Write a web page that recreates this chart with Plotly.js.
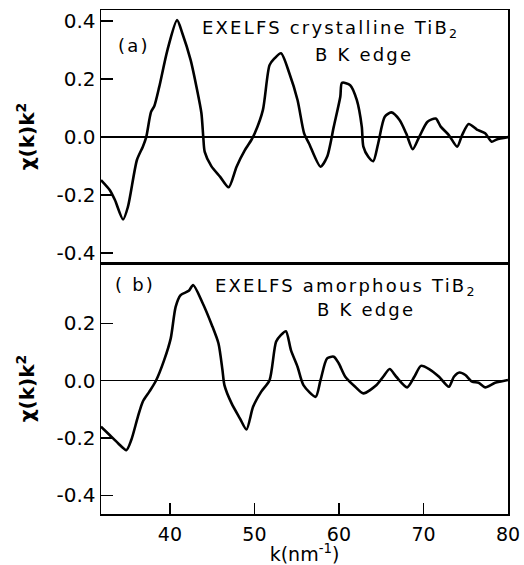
<!DOCTYPE html>
<html>
<head>
<meta charset="utf-8">
<script src="https://cdn.plot.ly/plotly-3.0.1.min.js"></script>
<style>
html,body{margin:0;padding:0;background:#fff;}
#chart{width:524px;height:565px;}
.annotation-text{letter-spacing:2.2px;}
</style>
</head>
<body>
<div id="chart"></div>
<script>
// Panel (a): crystalline TiB2
const kA = [31.85, 32.9, 33.5, 34.46, 35.04, 36.1, 36.8, 37.2, 37.77, 38.16, 38.74, 39.71, 40.85, 41.47, 42.45, 43.22, 43.73, 43.95, 44.12, 44.9, 45.95, 46.95, 47.89, 48.87, 49.64, 50.04, 51.0, 51.79, 52.37, 53.15, 54.13, 55.1, 55.88, 56.46, 57.82, 58.6, 59.39, 60.16, 60.36, 61.33, 62.11, 62.7, 62.89, 63.47, 64.06, 64.64, 65.42, 66.2, 67.17, 67.95, 68.73, 69.5, 70.48, 71.45, 72.04, 73.0, 73.99, 74.57, 75.35, 76.32, 77.3, 78.07, 78.66, 80];
const chiA = [-0.148, -0.183, -0.217, -0.284, -0.240, -0.079, -0.033, 0.0, 0.087, 0.107, 0.173, 0.30, 0.403, 0.358, 0.266, 0.162, 0.082, 0.0, -0.051, -0.100, -0.137, -0.173, -0.102, -0.045, -0.010, 0.013, 0.093, 0.248, 0.271, 0.289, 0.220, 0.128, 0.013, -0.022, -0.102, -0.068, 0.036, 0.139, 0.187, 0.179, 0.128, 0.036, -0.033, -0.068, -0.083, -0.022, 0.070, 0.085, 0.059, 0.013, -0.042, 0.001, 0.053, 0.064, 0.036, 0.007, -0.033, 0.007, 0.045, 0.026, 0.013, -0.016, -0.008, 0.0];

// Panel (b): amorphous TiB2
const kB = [31.85, 32.9, 33.87, 34.85, 35.43, 36.21, 36.79, 37.57, 38.35, 39.32, 40.1, 40.68, 41.27, 42.24, 42.75, 43.8, 44.97, 45.75, 46.22, 46.45, 47.3, 48.28, 49.06, 49.84, 50.81, 51.79, 52.56, 53.15, 53.73, 54.32, 55.1, 55.8, 57.24, 57.82, 58.6, 59.39, 59.97, 60.75, 61.92, 62.89, 64.45, 65.23, 66.0, 66.78, 68.07, 68.92, 69.7, 70.67, 71.84, 73.0, 73.6, 74.26, 74.96, 75.74, 76.52, 77.3, 78.47, 80];
const chiB = [-0.160, -0.190, -0.218, -0.242, -0.207, -0.126, -0.073, -0.038, 0.0, 0.072, 0.148, 0.258, 0.299, 0.314, 0.334, 0.276, 0.194, 0.130, 0.037, -0.015, -0.079, -0.131, -0.170, -0.091, -0.038, 0.002, 0.136, 0.160, 0.173, 0.107, 0.049, -0.015, -0.056, 0.002, 0.078, 0.084, 0.061, 0.014, -0.021, -0.044, -0.015, 0.014, 0.041, 0.014, -0.023, 0.014, 0.052, 0.041, 0.014, -0.021, 0.014, 0.029, 0.02, -0.003, -0.007, -0.023, -0.007, 0.003];

// Tick labels
const xTickVals = [40, 50, 60, 70, 80];
const xTickText = ["40", "50", "60", "70", "80"];
const yTickValsA = [-0.4, -0.2, 0, 0.2, 0.4];
const yTickTextA = ["-0.4", "-0.2", "0.0", "0.2", "0.4"];
const yTickValsB = [-0.4, -0.2, 0, 0.2];
const yTickTextB = ["-0.4", "-0.2", "0.0", "0.2"];

const FONT = "DejaVu Sans, sans-serif";
const lineStyle = {color: "#000", width: 2.6, shape: "spline", smoothing: 0.7};

const traces = [
  {x: kA, y: chiA, xaxis: "x2", yaxis: "y2", mode: "lines", line: lineStyle, hoverinfo: "skip"},
  {x: kB, y: chiB, xaxis: "x", yaxis: "y", mode: "lines", line: lineStyle, hoverinfo: "skip"}
];

const yCommon = {
  showline: true, linecolor: "#000", linewidth: 1.5, mirror: true,
  ticks: "inside", ticklen: 12, tickwidth: 1.3, tickcolor: "#000",
  showgrid: false, zeroline: true, zerolinecolor: "#000", zerolinewidth: 1.3,
  tickfont: {family: FONT, size: 20, color: "#000"},
  ticklabelstandoff: 0,
  tickmode: "array"
};
const yTitle = {text: "χ(k)k<sup>2</sup>", font: {family: FONT, size: 20, color: "#000", weight: "bold"}, standoff: 16};

const layout = {
  width: 524, height: 565,
  margin: {l: 101, r: 16, t: 10, b: 51},
  paper_bgcolor: "#fff", plot_bgcolor: "#fff",
  showlegend: false,
  xaxis: {
    domain: [0, 1], anchor: "y", range: [31.85, 80],
    showline: true, linecolor: "#000", linewidth: 1.5, mirror: true,
    ticks: "inside", ticklen: 11, tickwidth: 1.3, tickcolor: "#000",
    tickmode: "array", tickvals: xTickVals, ticktext: xTickText,
    tickfont: {family: FONT, size: 19, color: "#000"},
    ticklabelstandoff: 3,
    showgrid: false, zeroline: false,
    title: {text: "k(nm<sup>-1</sup>)", font: {family: FONT, size: 19, color: "#000"}, standoff: 8}
  },
  xaxis2: {
    domain: [0, 1], anchor: "y2", matches: "x", range: [31.85, 80],
    showline: true, linecolor: "#000", linewidth: 1.5, mirror: true,
    ticks: "", showticklabels: false, showgrid: false, zeroline: false
  },
  yaxis: Object.assign({}, yCommon, {
    domain: [0, 0.498], anchor: "x", range: [-0.465, 0.411],
    tickvals: yTickValsB, ticktext: yTickTextB, title: yTitle
  }),
  yaxis2: Object.assign({}, yCommon, {
    domain: [0.498, 1], anchor: "x2", range: [-0.434, 0.438],
    tickvals: yTickValsA, ticktext: yTickTextA, title: yTitle
  }),
  annotations: [
    {xref: "paper", yref: "paper", x: 0.081, y: 0.930, text: "(a)", showarrow: false, xanchor: "center", yanchor: "middle", font: {family: FONT, size: 18, color: "#000"}},
    {xref: "paper", yref: "paper", x: 0.243, y: 0.962, text: "EXELFS crystalline TiB<sub>2</sub>", showarrow: false, xanchor: "left", yanchor: "middle", font: {family: FONT, size: 18, color: "#000"}},
    {xref: "paper", yref: "paper", x: 0.521, y: 0.911, text: "B K edge", showarrow: false, xanchor: "left", yanchor: "middle", font: {family: FONT, size: 18, color: "#000"}},
    {xref: "paper", yref: "paper", x: 0.084, y: 0.456, text: "( b)", showarrow: false, xanchor: "center", yanchor: "middle", font: {family: FONT, size: 18, color: "#000"}},
    {xref: "paper", yref: "paper", x: 0.275, y: 0.450, text: "EXELFS amorphous TiB<sub>2</sub>", showarrow: false, xanchor: "left", yanchor: "middle", font: {family: FONT, size: 18, color: "#000"}},
    {xref: "paper", yref: "paper", x: 0.526, y: 0.405, text: "B K edge", showarrow: false, xanchor: "left", yanchor: "middle", font: {family: FONT, size: 18, color: "#000"}}
  ]
};

Plotly.newPlot("chart", traces, layout, {staticPlot: true, displayModeBar: false});
</script>
</body>
</html>
